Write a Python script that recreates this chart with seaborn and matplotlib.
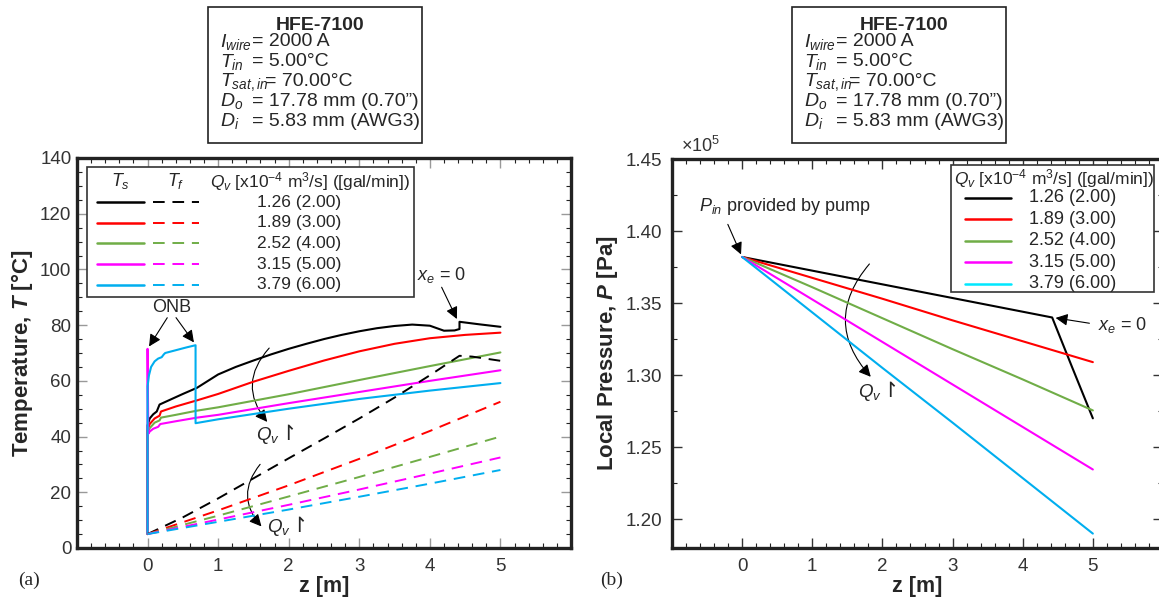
import numpy as np
import pandas as pd
import matplotlib
matplotlib.use("Agg")
import matplotlib.pyplot as plt
import seaborn as sns
from matplotlib.patches import Rectangle, FancyArrowPatch
from matplotlib.lines import Line2D
from matplotlib.ticker import MultipleLocator, FuncFormatter

sns.set_theme(style="white")
plt.rcParams['font.family'] = ['Liberation Sans', 'DejaVu Sans']
plt.rcParams['mathtext.fontset'] = 'custom'
plt.rcParams['mathtext.rm'] = 'Liberation Sans'
plt.rcParams['mathtext.it'] = 'Liberation Sans:italic'
plt.rcParams['mathtext.bf'] = 'Liberation Sans:bold'
plt.rcParams['mathtext.bfit'] = 'Liberation Sans:italic:bold'
plt.rcParams['mathtext.fallback'] = 'stixsans'

# ---- data: panel (a) wall / fluid temperature ----
flow_labels = ['1.26 (2.00)', '1.89 (3.00)', '2.52 (4.00)', '3.15 (5.00)', '3.79 (6.00)']
colors = ['#000000', '#ff0000', '#70ad47', '#ff00ff', '#00aeef']

z_ts_black = [0, 0, 0.03, 0.08, 0.13, 0.17, 0.3, 0.5, 0.7, 1.0, 1.25, 1.5, 1.75, 2.0, 2.25, 2.5, 2.75,
              3.0, 3.25, 3.5, 3.75, 4.0, 4.2, 4.35, 4.42, 4.42, 4.7, 5.0]
ts_black = [5, 44, 46.5, 48, 49, 51.5, 53, 55.3, 57.5, 62.3, 65, 67.3, 69.5, 71.5, 73.3, 75, 76.5,
            77.8, 78.9, 79.7, 80.2, 79.8, 78, 78.1, 78.6, 81.2, 80.3, 79.4]

z_ts_red = [0, 0, 0.03, 0.1, 0.17, 0.19, 0.4, 0.7, 1.0, 1.5, 2.0, 2.5, 3.0, 3.5, 4.0, 4.5, 5.0]
ts_red = [5, 42, 44.5, 46.5, 47.5, 49, 50.8, 53, 55.3, 59.7, 63.6, 67.3, 70.6, 73.3, 75.3, 76.5, 77.3]

z_ts_green = [0, 0, 0.03, 0.1, 0.17, 0.19, 0.4, 0.7, 1.0, 2.0, 3.0, 4.0, 5.0]
ts_green = [5, 41.5, 43, 45, 45.8, 46.8, 47.8, 49.3, 50.5, 55.2, 60.3, 65.3, 70.2]

z_ts_magenta = [0, 0, 0.01, 0.03, 0.08, 0.15, 0.18, 0.4, 0.7, 1.0, 2.0, 3.0, 4.0, 5.0]
ts_magenta = [5, 71.5, 41, 41.8, 42.8, 43.5, 44.5, 45.5, 46.8, 47.8, 52, 56, 60, 63.8]

z_ts_cyan = [0, 0, 0.02, 0.05, 0.1, 0.15, 0.2, 0.23, 0.25, 0.4, 0.55, 0.68, 0.68, 1.0, 2.0, 3.0, 4.0, 5.0]
ts_cyan = [5, 58, 62, 65, 67, 68, 68.5, 69.5, 70, 71, 72, 72.8, 44.8, 46.2, 50, 53.5, 56.5, 59.2]

z_tf_black = [0, 0.5, 1.0, 1.5, 2.0, 2.5, 3.0, 3.5, 4.0, 4.42, 4.6, 5.0]
tf_black = [5, 11, 17.8, 25, 32.2, 39.3, 46.5, 54, 62, 69, 68.7, 67.2]
z_tf = [0, 1, 2, 3, 4, 5]
tf_red = [5, 13.5, 22.5, 32, 42, 52.5]
tf_green = [5, 11.6, 18.5, 25.5, 32.7, 40]
tf_magenta = [5, 10.2, 15.5, 21, 26.7, 32.5]
tf_cyan = [5, 9.4, 13.8, 18.4, 23.1, 28]

# ---- data: panel (b) local pressure [Pa] ----
z_p_black = [0, 1, 2, 3, 4, 4.42, 4.7, 5.0]
p_black = [1.382e5, 1.3725e5, 1.363e5, 1.3535e5, 1.344e5, 1.340e5, 1.306e5, 1.270e5]
z_p = [0, 1, 2, 3, 4, 5]
p_red = [1.382e5, 1.3675e5, 1.353e5, 1.338e5, 1.3235e5, 1.309e5]
p_green = [1.382e5, 1.361e5, 1.3395e5, 1.318e5, 1.297e5, 1.2755e5]
p_magenta = [1.382e5, 1.3525e5, 1.323e5, 1.2935e5, 1.264e5, 1.2345e5]
p_cyan = [1.382e5, 1.3435e5, 1.305e5, 1.267e5, 1.2285e5, 1.190e5]

ts_series = [(z_ts_black, ts_black), (z_ts_red, ts_red), (z_ts_green, ts_green),
             (z_ts_magenta, ts_magenta), (z_ts_cyan, ts_cyan)]
tf_series = [(z_tf_black, tf_black), (z_tf, tf_red), (z_tf, tf_green),
             (z_tf, tf_magenta), (z_tf, tf_cyan)]
p_series = [(z_p_black, p_black), (z_p, p_red), (z_p, p_green),
            (z_p, p_magenta), (z_p, p_cyan)]

W, H = 1159, 601
fig = plt.figure(figsize=(W / 100, H / 100), dpi=100)


def fx(px):
    return px / W


def fy(py):
    return 1 - py / H


ax1 = fig.add_axes([fx(77), fy(548), 494 / W, 390 / H])
ax2 = fig.add_axes([fx(672), fy(548), 491 / W, 389 / H])


def style_axes(ax, major_color):
    for s in ax.spines.values():
        s.set_linewidth(2.4)
        s.set_color('#222222')
        s.set_visible(True)
    ax.tick_params(which='both', direction='in', top=True, right=True, bottom=True, left=True,
                   labelsize=13.5, labelcolor='#333333')
    ax.tick_params(which='major', length=7, width=1, color=major_color)
    ax.tick_params(which='minor', length=3.5, width=0.8, color='#222222')
    ax.tick_params(axis='x', which='major', pad=7)
    ax.grid(False)


def qv_up(ax, x, y):
    # Q_v with an up-harpoon, as in the reference annotations
    ax.text(x, y, r'$Q_v$', ha='right', va='center', fontsize=13.5)
    ax.annotate('↾', xy=(x, y), xytext=(-0.5, 1), textcoords='offset points',
                ha='left', va='center', fontsize=15, family='DejaVu Sans')


# ---- panel (a) ----
for (z, t), c in zip(ts_series, colors):
    sns.lineplot(x=z, y=t, ax=ax1, color=c, lw=1.5, sort=False, estimator=None)
for (z, t), c in zip(tf_series, colors):
    sns.lineplot(x=z, y=t, ax=ax1, color=c, lw=1.4, sort=False, estimator=None,
                 linestyle=(0, (6, 4)))
ax1.set_xlim(-1, 6)
ax1.set_ylim(0, 140)
ax1.set_xticks([0, 1, 2, 3, 4, 5])
ax1.xaxis.set_minor_locator(MultipleLocator(0.2))
ax1.yaxis.set_major_locator(MultipleLocator(20))
ax1.yaxis.set_minor_locator(MultipleLocator(5))
style_axes(ax1, '#999999')
ax1.tick_params(axis='y', which='major', pad=4)
ax1.set_xlabel('z [m]', fontsize=15.5, fontweight='bold', labelpad=1)
ax1.set_ylabel(r'Temperature, $\mathbfit{T}$ [°C]', fontsize=16, fontweight='bold', labelpad=4)

# legend table (a)
tr = ax1.transAxes
ax1.add_patch(Rectangle((0.02, 0.644), 0.663, 0.332, transform=tr, fill=True,
                        facecolor='white', edgecolor='#333333', lw=1.2, zorder=5))
ax1.text(0.088, 0.94, r'$T_s$', transform=tr, ha='center', va='center', fontsize=13, zorder=6)
ax1.text(0.199, 0.94, r'$T_f$', transform=tr, ha='center', va='center', fontsize=13, zorder=6)
ax1.text(0.27, 0.94, r'$Q_v$ [x10$^{\mathrm{-4}}$ m$^{\mathrm{3}}$/s] ([gal/min])', transform=tr,
         ha='left', va='center', fontsize=12.5, zorder=6)
for i, (c, lab) in enumerate(zip(colors, flow_labels)):
    yy = 0.887 - i * 0.053
    ax1.add_line(Line2D([0.041, 0.135], [yy, yy], transform=tr, color=c, lw=1.8, zorder=6))
    ax1.add_line(Line2D([0.154, 0.247], [yy, yy], transform=tr, color=c, lw=1.4,
                        linestyle=(0, (6, 4)), zorder=6))
    ax1.text(0.45, yy, lab, transform=tr, ha='center', va='center', fontsize=12.5, zorder=6)

# annotations (a)
arrow_kw = dict(arrowstyle='-|>', mutation_scale=18, color='black', lw=0.8)
ax1.text(0.34, 86.5, 'ONB', ha='center', va='center', fontsize=13)
ax1.annotate('', xy=(0.0, 71.5), xytext=(0.3, 83.5), arrowprops=arrow_kw)
ax1.annotate('', xy=(0.68, 73), xytext=(0.38, 83.5), arrowprops=arrow_kw)
ax1.text(3.82, 98, r'$x_e$ = 0', ha='left', va='center', fontsize=13)
ax1.annotate('', xy=(4.4, 81.3), xytext=(4.15, 94.5), arrowprops=arrow_kw)
ax1.add_patch(FancyArrowPatch((1.75, 72.5), (1.72, 44.5), connectionstyle='arc3,rad=0.45',
                              **arrow_kw))
qv_up(ax1, 1.88, 40.4)
ax1.add_patch(FancyArrowPatch((1.62, 30.8), (1.64, 7.0), connectionstyle='arc3,rad=0.45',
                              **arrow_kw))
qv_up(ax1, 2.03, 7.4)

# ---- panel (b) ----
for (z, p), c in zip(p_series, colors):
    sns.lineplot(x=z, y=p, ax=ax2, color=c, lw=1.5, sort=False, estimator=None)
ax2.set_xlim(-1, 6)
ax2.set_ylim(1.18e5, 1.45e5)
ax2.set_xticks([0, 1, 2, 3, 4, 5])
ax2.xaxis.set_minor_locator(MultipleLocator(0.2))
ax2.set_yticks([1.20e5, 1.25e5, 1.30e5, 1.35e5, 1.40e5, 1.45e5])
ax2.yaxis.set_minor_locator(MultipleLocator(2500))
ax2.yaxis.set_major_formatter(FuncFormatter(lambda v, pos: f'{v / 1e5:.2f}'))
style_axes(ax2, '#333333')
ax2.tick_params(axis='y', which='major', pad=7)
ax2.set_xlabel('z [m]', fontsize=15.5, fontweight='bold', labelpad=1)
ax2.set_ylabel(r'Local Pressure, $\mathbfit{P}$ [Pa]', fontsize=16, fontweight='bold', labelpad=4)
fig.text(fx(681), fy(146), r'×10$^{\mathrm{5}}$', fontsize=13, ha='left', va='center', color='#333333')

tr2 = ax2.transAxes
ax2.add_patch(Rectangle((0.568, 0.658), 0.414, 0.327, transform=tr2, facecolor='white',
                        edgecolor='#333333', lw=1.2, zorder=5))
ax2.text(0.574, 0.949, r'$Q_v$ [x10$^{\mathrm{-4}}$ m$^{\mathrm{3}}$/s] ([gal/min])', transform=tr2,
         ha='left', va='center', fontsize=12.5, zorder=6)
legend_colors_b = ['#000000', '#ff0000', '#70ad47', '#ff00ff', '#00e8ff']
for i, (c, lab) in enumerate(zip(legend_colors_b, flow_labels)):
    yy = 0.900 - i * 0.0553
    ax2.add_line(Line2D([0.597, 0.69], [yy, yy], transform=tr2, color=c, lw=1.8, zorder=6))
    ax2.text(0.727, yy, lab, transform=tr2, ha='left', va='center', fontsize=13, zorder=6)

ax2.text(-0.62, 1.4168e5, r'$P_{in}$ provided by pump', ha='left', va='center', fontsize=13)
ax2.annotate('', xy=(0.0, 1.382e5), xytext=(-0.22, 1.4064e5), arrowprops=arrow_kw)
ax2.text(5.07, 1.3345e5, r'$x_e$ = 0', ha='left', va='center', fontsize=13)
ax2.annotate('', xy=(4.43, 1.3400e5), xytext=(4.99, 1.3357e5), arrowprops=arrow_kw)
ax2.add_patch(FancyArrowPatch((1.84, 1.3786e5), (1.86, 1.2974e5), connectionstyle='arc3,rad=0.45',
                              **arrow_kw))
qv_up(ax2, 1.99, 1.2880e5)

# ---- info boxes above each panel ----
info_rows = [r'$I_{wire}$', r'$T_{in}$', r'$T_{\mathit{sat,in}}$', r'$D_o$', r'$D_i$']
info_vals = ['= 2000 A', '= 5.00°C', '= 70.00°C', '= 17.78 mm (0.70”)', '= 5.83 mm (AWG3)']
for x0 in [208, 792]:
    fig.patches.append(Rectangle((fx(x0), fy(143)), 214 / W, 136 / H, transform=fig.transFigure,
                                 facecolor='white', edgecolor='#222222', lw=1.2))
    fig.text(fx(x0 + 112), fy(26), 'HFE-7100', fontsize=14, fontweight='bold', ha='center', va='center')
    for i, (sym, val) in enumerate(zip(info_rows, info_vals)):
        yy = fy(42 + i * 19.8)
        fig.text(fx(x0 + 12), yy, sym, fontsize=14, ha='left', va='center')
        fig.text(fx(x0 + (57 if i == 2 else 44)), yy, val, fontsize=14, ha='left', va='center')

fig.text(fx(18), fy(580), '(a)', fontsize=14, family='Liberation Serif', ha='left', va='center')
fig.text(fx(600), fy(580), '(b)', fontsize=14, family='Liberation Serif', ha='left', va='center')

fig.savefig('out.png', dpi=100)
